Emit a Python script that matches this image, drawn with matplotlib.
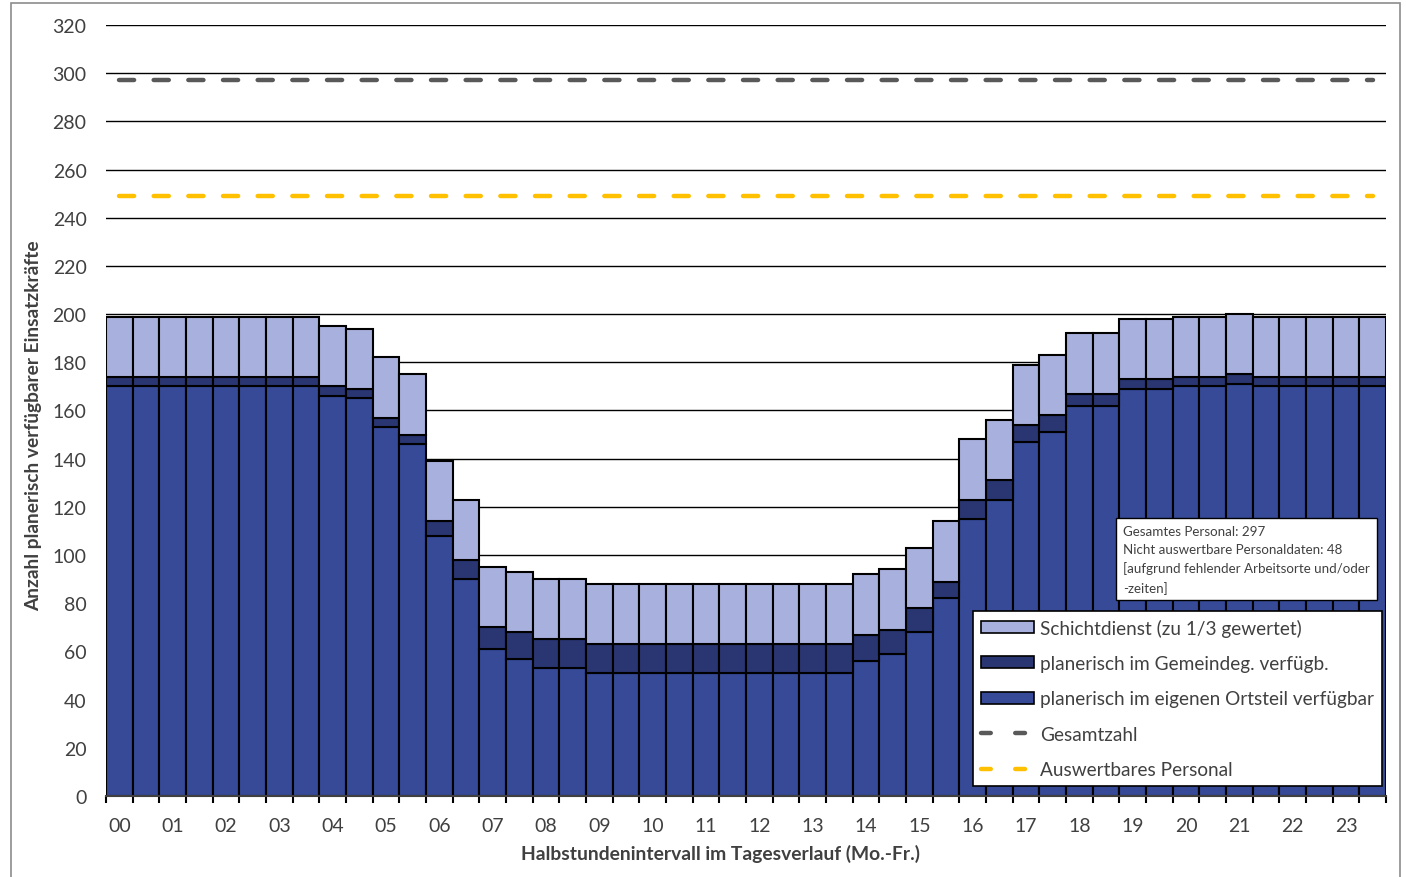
import matplotlib.pyplot as plt
import numpy as np
from matplotlib.patches import Patch, Rectangle
from matplotlib.lines import Line2D

plt.rcParams['font.family'] = ['Lato', 'DejaVu Sans']

# half-hour intervals 00:00 ... 23:30
hour_labels = ['%02d' % h for h in range(24)]

eigen = [170, 170, 170, 170, 170, 170, 170, 170, 166, 165, 153, 146,
         108, 90, 61, 57, 53, 53, 51, 51, 51, 51, 51, 51,
         51, 51, 51, 51, 56, 59, 68, 82, 115, 123, 147, 151,
         162, 162, 169, 169, 170, 170, 171, 170, 170, 170, 170, 170]
gemeinde = [4, 4, 4, 4, 4, 4, 4, 4, 4, 4, 4, 4,
            6, 8, 9, 11, 12, 12, 12, 12, 12, 12, 12, 12,
            12, 12, 12, 12, 11, 10, 10, 7, 8, 8, 7, 7,
            5, 5, 4, 4, 4, 4, 4, 4, 4, 4, 4, 4]
schicht = [25] * 48

gesamtzahl = 297
auswertbar = 249

c_eigen = '#364A98'
c_gem = '#2A3672'
c_schicht = '#A8B0DD'
txt = '#404040'

fig = plt.figure(figsize=(14.06, 8.78), dpi=100)
ax = fig.add_axes([0.0754, 0.0923, 0.9104, 0.8781])

x = np.arange(48)
eigen = np.array(eigen)
gemeinde = np.array(gemeinde)
schicht = np.array(schicht)

ax.bar(x, eigen, width=1.0, color=c_eigen, edgecolor='black', linewidth=1.5, zorder=2)
ax.bar(x, gemeinde, width=1.0, bottom=eigen, color=c_gem, edgecolor='black', linewidth=1.5, zorder=2)
ax.bar(x, schicht, width=1.0, bottom=eigen + gemeinde, color=c_schicht, edgecolor='black', linewidth=1.5, zorder=2)

ax.plot([0, 47], [gesamtzahl, gesamtzahl], color='#595959', lw=3.2,
        dashes=(3.4, 4.4), dash_capstyle='round', zorder=3)
ax.plot([0, 47], [auswertbar, auswertbar], color='#FFC000', lw=3.2,
        dashes=(3.4, 4.4), dash_capstyle='round', zorder=3)

ax.set_xlim(-0.5, 47.5)
ax.set_ylim(0, 320)
ax.set_yticks(range(0, 321, 20))
ax.yaxis.grid(True, color='black', lw=1)
ax.set_axisbelow(True)

for s in ['top', 'right', 'left']:
    ax.spines[s].set_visible(False)
ax.spines['bottom'].set_color('#404040')
ax.spines['bottom'].set_linewidth(1.5)

ax.set_xticks(x[::2])
ax.set_xticklabels(hour_labels)
ax.set_xticks(np.arange(-0.5, 48, 1), minor=True)
ax.tick_params(axis='x', which='major', length=0, pad=15, labelsize=14, labelcolor=txt)
ax.tick_params(axis='x', which='minor', length=5, width=1.5, color='black')
ax.tick_params(axis='y', length=0, pad=14, labelsize=14, labelcolor=txt)

ax.set_xlabel('Halbstundenintervall im Tagesverlauf (Mo.-Fr.)', fontsize=13.9,
              fontweight='bold', color=txt)
ax.xaxis.set_label_coords(0.48, -0.062)
ax.set_ylabel('Anzahl planerisch verfügbarer Einsatzkräfte', fontsize=13.8,
              fontweight='bold', color=txt)
ax.yaxis.set_label_coords(-0.050, 0.481)

handles = [
    Patch(facecolor=c_schicht, edgecolor='black', lw=1.2),
    Patch(facecolor=c_gem, edgecolor='black', lw=1.2),
    Patch(facecolor=c_eigen, edgecolor='black', lw=1.2),
    Line2D([], [], color='#595959', lw=3.2, dashes=(2.2, 5.5), dash_capstyle='round'),
    Line2D([], [], color='#FFC000', lw=3.2, dashes=(2.2, 5.5), dash_capstyle='round'),
]
labels = ['Schichtdienst (zu 1/3 gewertet)', 'planerisch im Gemeindeg. verfügb.',
          'planerisch im eigenen Ortsteil verfügbar', 'Gesamtzahl', 'Auswertbares Personal']
leg = ax.legend(handles, labels, loc='lower right', bbox_to_anchor=(0.997, 0.013),
                fontsize=13.7, frameon=True, fancybox=False, edgecolor='black',
                framealpha=1, labelspacing=0.96, handlelength=2.75, handleheight=0.6,
                handletextpad=0.35, borderpad=0.42, borderaxespad=0)
leg.get_frame().set_linewidth(1.2)
for t in leg.get_texts():
    t.set_color(txt)
leg.set_zorder(5)

ax.text(0.7945, 0.352,
        'Gesamtes Personal: 297\nNicht auswertbare Personaldaten: 48\n'
        '[aufgrund fehlender Arbeitsorte und/oder\n-zeiten]',
        transform=ax.transAxes, fontsize=9.6, color=txt, va='top', ha='left',
        linespacing=1.6, zorder=6,
        bbox=dict(boxstyle='square,pad=0.5', facecolor='white', edgecolor='black', lw=1))

fig.patches.append(Rectangle((11 / 1406, -0.01), 1389 / 1406, 1.0 - 4 / 878 + 0.01,
                             transform=fig.transFigure, fill=False,
                             edgecolor='#8c8c8c', lw=1.2))

fig.savefig('out.png', dpi=100)
